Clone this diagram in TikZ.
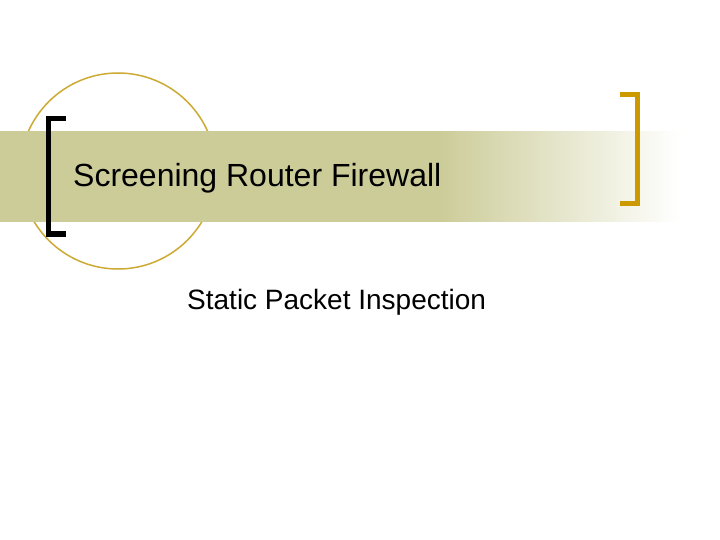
\documentclass[tikz,border=0pt]{standalone}
\usepackage{fontspec}
\setmainfont{Liberation Sans}
\begin{document}
\definecolor{band}{RGB}{204,204,153}
\definecolor{gold}{RGB}{204,153,0}
\definecolor{ring}{RGB}{204,170,51}
\pgfdeclarehorizontalshading{bandfade}{100bp}{color(0bp)=(band); color(25bp)=(band); color(57.3bp)=(band); color(75bp)=(white); color(100bp)=(white)}
\begin{tikzpicture}[x=1pt,y=-1pt]
\useasboundingbox (0,0) rectangle (720,540);
\fill[white] (0,0) rectangle (720,540);
\draw[ring,line width=1.5] (118,171) circle (98);
\shade[shading=bandfade] (0,132) rectangle (680,222);
\draw[black,line width=5] (66,119) -- (48,119) -- (48,234) -- (66,234);
\draw[gold,line width=5] (620,95) -- (637,95) -- (637,204) -- (620,204);
\node[anchor=base west,font=\fontsize{32}{36}\selectfont,inner sep=0] (title) at (73,187) {Screening Router Firewall};
\node[anchor=base west,font=\fontsize{28}{32}\selectfont,inner sep=0] (sub) at (187,309) {Static Packet Inspection};
\end{tikzpicture}
\end{document}
